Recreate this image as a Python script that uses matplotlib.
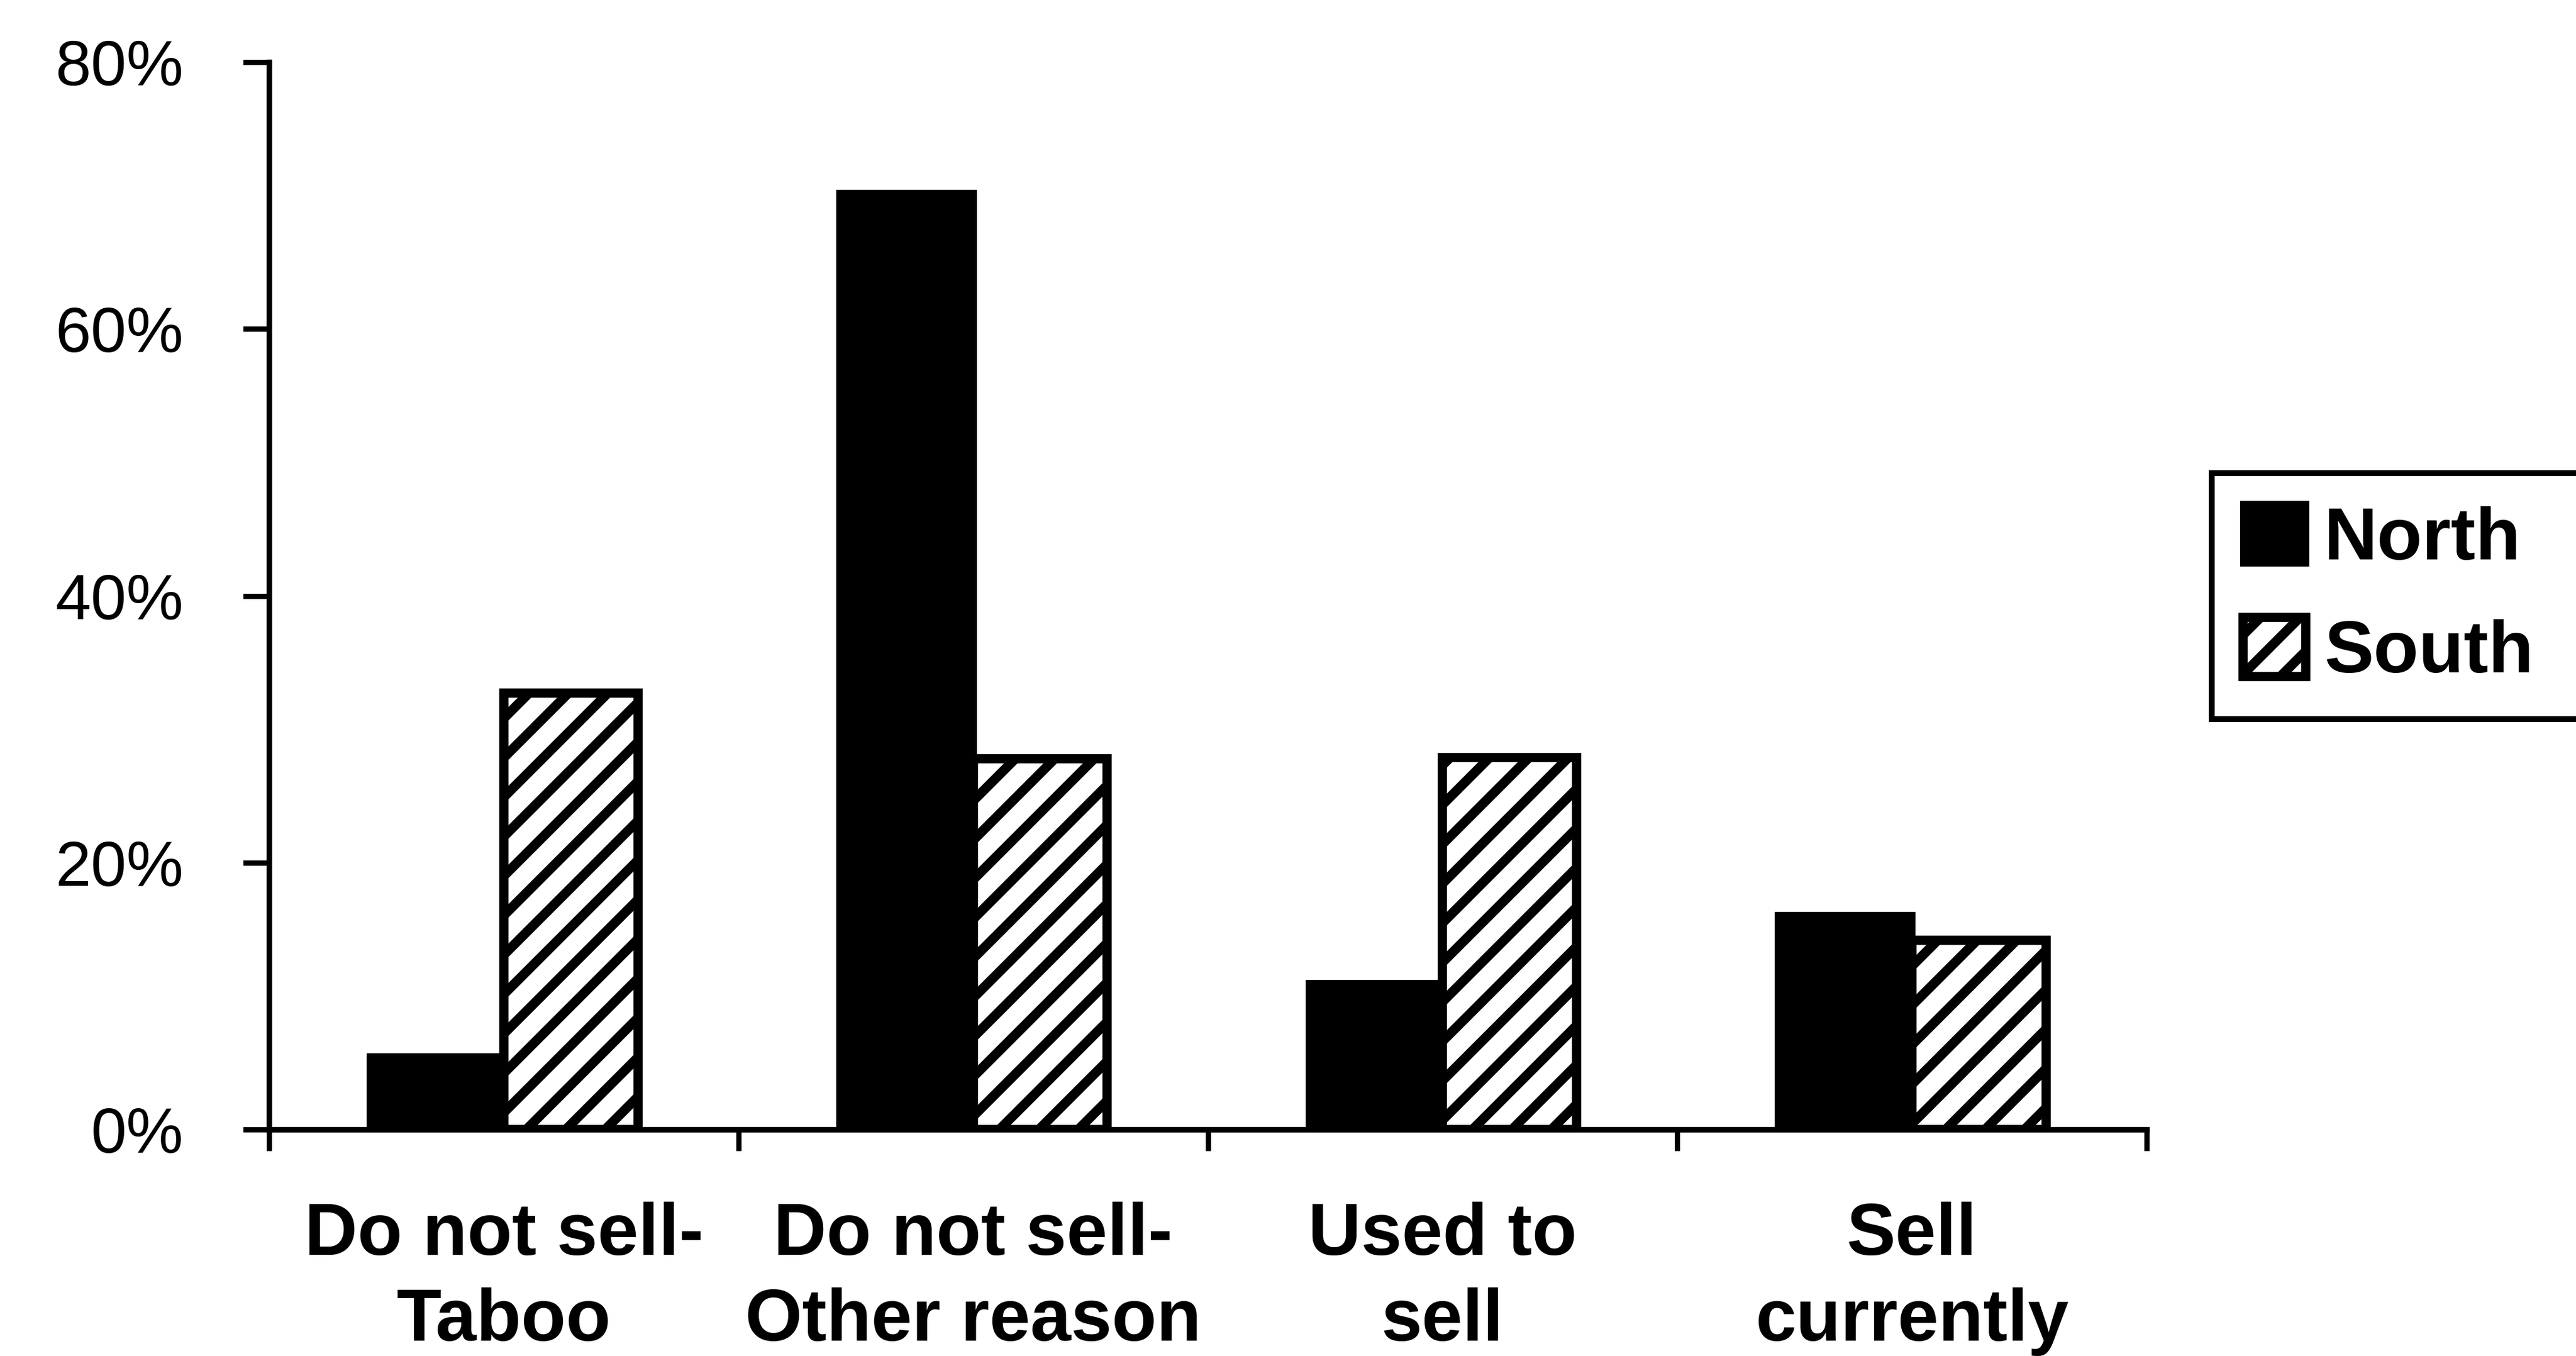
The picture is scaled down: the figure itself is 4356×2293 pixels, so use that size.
import matplotlib
matplotlib.use("Agg")
import matplotlib.pyplot as plt
import numpy as np
from matplotlib.ticker import FuncFormatter

# Survey shares by region
categories = ["Do not sell-\nTaboo", "Do not sell-\nOther reason", "Used to\nsell", "Sell\ncurrently"]
north = [5.5, 70.2, 11.0, 16.1]
south = [32.7, 27.8, 27.9, 14.2]
series_names = ["North", "South"]
y_ticks = [0, 20, 40, 60, 80]

plt.rcParams['font.family'] = ['Liberation Sans', 'DejaVu Sans']
plt.rcParams['hatch.linewidth'] = 2.9
plt.rcParams['hatch.color'] = 'black'

DPI = 400
W, H = 4356, 2293
fig = plt.figure(figsize=(W / DPI, H / DPI), dpi=DPI)
fig.patch.set_facecolor('white')

ax = fig.add_axes([455 / W, 1 - 1910 / H, 3175 / W, (1910 - 105) / H])

x = np.arange(len(categories))
bw = 1 / 3.5  # Excel-style 150% gap width

ax.bar(x - bw / 2, north, bw, color='black', edgecolor='black',
       linewidth=2.0, label=series_names[0], zorder=3)
ax.bar(x + bw / 2, south, bw, color='white', edgecolor='black',
       linewidth=2.8, hatch='//', label=series_names[1], zorder=3)

ax.set_xlim(-0.5, len(categories) - 0.5)
ax.set_ylim(0, 80)

for side in ('top', 'right'):
    ax.spines[side].set_visible(False)
for side in ('left', 'bottom'):
    ax.spines[side].set_linewidth(1.7)
    ax.spines[side].set_color('black')

# y axis: percentage ticks
ax.set_yticks(y_ticks)
ax.yaxis.set_major_formatter(FuncFormatter(lambda v, p: f"{v:.0f}%"))
ax.tick_params(axis='y', direction='out', length=8.0, width=1.6, pad=18,
               labelsize=19.5, colors='black')

# x axis: labels at category centres, ticks at category boundaries
ax.set_xticks(x)
ax.set_xticklabels(categories, fontsize=22.3, fontweight='bold', linespacing=1.32)
ax.tick_params(axis='x', which='major', length=0, pad=22)
ax.set_xticks(np.arange(len(categories) + 1) - 0.5, minor=True)
ax.tick_params(axis='x', which='minor', direction='out', length=6.5, width=1.6)

leg_top = 1 - 800 / H
leg_h = (1210 - 800) / H
leg = ax.legend(loc='upper left',
                bbox_to_anchor=(3740 / W, leg_top - leg_h, (4395 - 3740) / W, leg_h),
                bbox_transform=fig.transFigure, borderaxespad=0, mode='expand',
                prop={'weight': 'bold', 'size': 22.5},
                frameon=True, fancybox=False, framealpha=1, edgecolor='black',
                handlelength=0.85, handleheight=0.85, handletextpad=0.25,
                labelspacing=0.58, borderpad=0.42)
leg.get_frame().set_linewidth(1.8)

fig.savefig("out.png", dpi=DPI, facecolor='white')
